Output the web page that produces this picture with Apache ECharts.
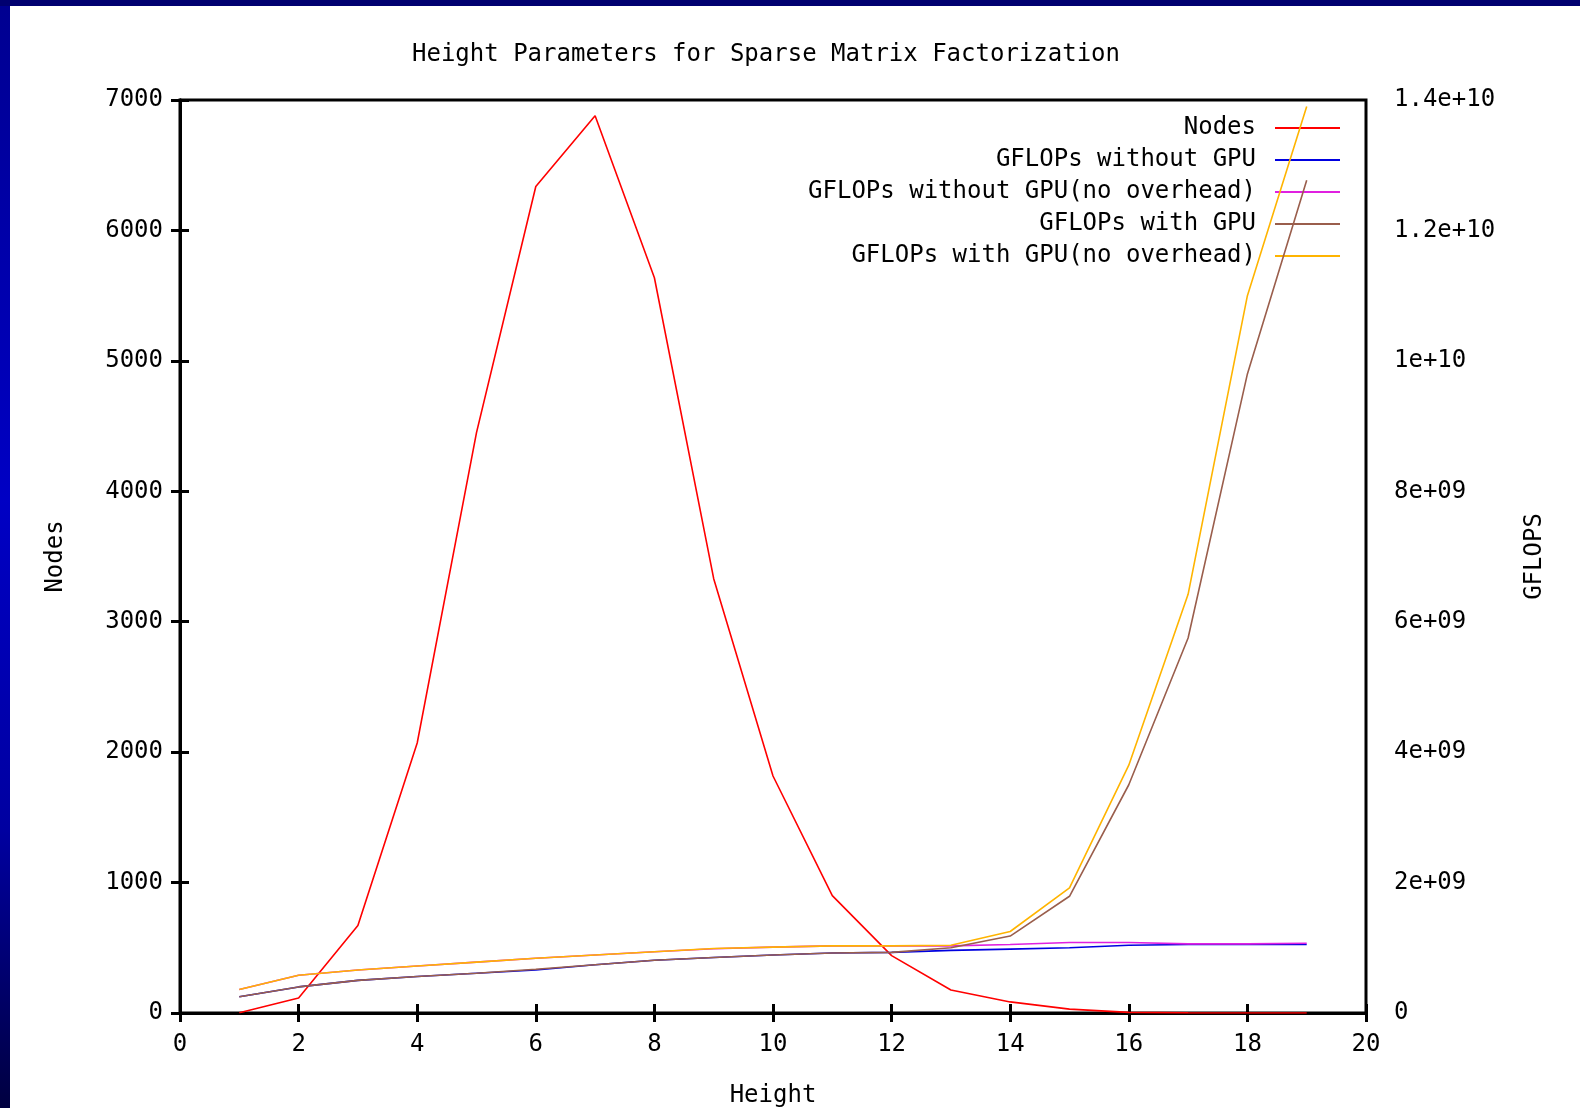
<!DOCTYPE html>
<html>
<head>
<meta charset="utf-8">
<title>Height Parameters for Sparse Matrix Factorization</title>
<script src="https://cdn.jsdelivr.net/npm/echarts@6/dist/echarts.min.js"></script>
<style>
  html, body { margin: 0; padding: 0; }
  body {
    width: 1580px; height: 1108px; overflow: hidden; position: relative;
    background: linear-gradient(to bottom, #000090 0%, #0000c4 45%, #0000a0 75%, #000040 100%);
  }
  #topband { position: absolute; left: 0; top: 0; width: 1580px; height: 6px; background: #000070; }
  #main { position: absolute; left: 10px; top: 6px; width: 1570px; height: 1102px; background: #fff; }
</style>
</head>
<body>
<div id="topband"></div>
<div id="main"></div>
<script>
// heights on x axis
var heights = [1, 2, 3, 4, 5, 6, 7, 8, 9, 10, 11, 12, 13, 14, 15, 16, 17, 18, 19];
// number of nodes per height (left axis)
var nodes = [2, 115, 670, 2070, 4450, 6337, 6879, 5637, 3330, 1817, 900, 440, 176, 85, 30, 5, 1, 0, 0];
// GFLOPs (right axis)
var gflopsNoGpu = [0.25e9, 0.40e9, 0.50e9, 0.56e9, 0.61e9, 0.66e9, 0.74e9, 0.81e9, 0.85e9, 0.89e9,
  0.92e9, 0.93e9, 0.96e9, 0.98e9, 1.00e9, 1.04e9, 1.05e9, 1.05e9, 1.05e9];
var gflopsNoGpuNoOverhead = [0.36e9, 0.58e9, 0.66e9, 0.72e9, 0.78e9, 0.84e9, 0.89e9, 0.94e9, 0.985e9, 1.01e9,
  1.03e9, 1.03e9, 1.03e9, 1.05e9, 1.08e9, 1.08e9, 1.06e9, 1.06e9, 1.07e9];
var gflopsGpu = [0.25e9, 0.40e9, 0.50e9, 0.56e9, 0.61e9, 0.67e9, 0.74e9, 0.81e9, 0.85e9, 0.89e9,
  0.92e9, 0.93e9, 1.00e9, 1.18e9, 1.79e9, 3.50e9, 5.75e9, 9.80e9, 12.77e9];
var gflopsGpuNoOverhead = [0.36e9, 0.58e9, 0.66e9, 0.72e9, 0.78e9, 0.84e9, 0.89e9, 0.94e9, 0.99e9, 1.01e9,
  1.03e9, 1.03e9, 1.04e9, 1.25e9, 1.92e9, 3.80e9, 6.42e9, 11.0e9, 13.9e9];
// right axis tick labels, gnuplot style
var rightTickLabels = ['0', '2e+09', '4e+09', '6e+09', '8e+09', '1e+10', '1.2e+10', '1.4e+10'];

var seriesNames = ['Nodes', 'GFLOPs without GPU', 'GFLOPs without GPU(no overhead)', 'GFLOPs with GPU', 'GFLOPs with GPU(no overhead)'];
var seriesColors = ['#ff0000', '#0000e0', '#e020e0', '#9a5e4c', '#ffb400'];

var FONT = '"DejaVu Sans Mono", "Liberation Mono", monospace';

function pairs(ys) {
  return heights.map(function (h, i) { return [h, ys[i]]; });
}

var chart = echarts.init(document.getElementById('main'));

// one legend per entry so the line samples line up on the right
var legends = seriesNames.map(function (name, i) {
  return {
    data: [name],
    right: 240,
    top: 110 + i * 32,
    padding: 0,
    align: 'right',
    icon: 'rect',
    itemWidth: 65,
    itemHeight: 2,
    selectedMode: false,
    textStyle: { fontFamily: FONT, fontSize: 24, color: '#000', padding: [0, 14, 0, 0] }
  };
});

var lineSeries = [nodes, gflopsNoGpu, gflopsNoGpuNoOverhead, gflopsGpu, gflopsGpuNoOverhead].map(function (ys, i) {
  return {
    name: seriesNames[i],
    type: 'line',
    yAxisIndex: i === 0 ? 0 : 1,
    data: pairs(ys),
    symbol: 'none',
    color: seriesColors[i],
    lineStyle: { width: 1.6, color: seriesColors[i] },
    z: 2 + i
  };
});

var option = {
  animation: false,
  backgroundColor: '#fff',
  title: {
    text: 'Height Parameters for Sparse Matrix Factorization',
    left: 397,
    top: 32,
    textStyle: { fontFamily: FONT, fontSize: 24, fontWeight: 'normal', color: '#000' }
  },
  legend: legends,
  grid: {
    left: 170, top: 94, width: 1186, height: 913,
    outerBoundsMode: 'none',
    show: true, borderColor: '#000', borderWidth: 3, backgroundColor: 'transparent'
  },
  xAxis: [
    {
      type: 'value', min: 0, max: 20, interval: 2,
      name: 'Height', nameLocation: 'middle', nameGap: 71,
      nameTextStyle: { fontFamily: FONT, fontSize: 24, color: '#000' },
      axisLine: { show: true, lineStyle: { color: '#000', width: 3 } },
      axisTick: { show: true, inside: true, length: 9, lineStyle: { color: '#000', width: 3 } },
      axisLabel: { margin: 20, fontFamily: FONT, fontSize: 24, color: '#000' },
      splitLine: { show: false }
    },
    {
      type: 'value', min: 0, max: 20, interval: 2, position: 'top',
      axisLine: { show: false },
      axisTick: { show: true, inside: true, length: 9, lineStyle: { color: '#000', width: 3 } },
      axisLabel: { show: false },
      splitLine: { show: false }
    }
  ],
  yAxis: [
    {
      type: 'value', min: 0, max: 7000, interval: 1000, position: 'left',
      name: 'Nodes', nameLocation: 'middle', nameGap: 112, nameRotate: 90,
      nameTextStyle: { fontFamily: FONT, fontSize: 24, color: '#000' },
      axisLine: { show: true, lineStyle: { color: '#000', width: 3 } },
      axisTick: { show: true, inside: true, length: 9, lineStyle: { color: '#000', width: 3 } },
      axisLabel: {
        margin: 17, fontFamily: FONT, fontSize: 24, color: '#000',
        formatter: function (v) { return String(v); }
      },
      splitLine: { show: false }
    },
    {
      type: 'value', min: 0, max: 1.4e10, interval: 2e9, position: 'right',
      name: 'GFLOPS', nameLocation: 'middle', nameGap: 157, nameRotate: 90,
      nameTextStyle: { fontFamily: FONT, fontSize: 24, color: '#000' },
      axisLine: { show: true, lineStyle: { color: '#000', width: 3 } },
      axisTick: { show: true, inside: true, length: 9, lineStyle: { color: '#000', width: 3 } },
      axisLabel: {
        margin: 28, fontFamily: FONT, fontSize: 24, color: '#000',
        formatter: function (v) { return rightTickLabels[Math.round(v / 2e9)]; }
      },
      splitLine: { show: false }
    }
  ],
  series: lineSeries
};

chart.setOption(option);
</script>
</body>
</html>
